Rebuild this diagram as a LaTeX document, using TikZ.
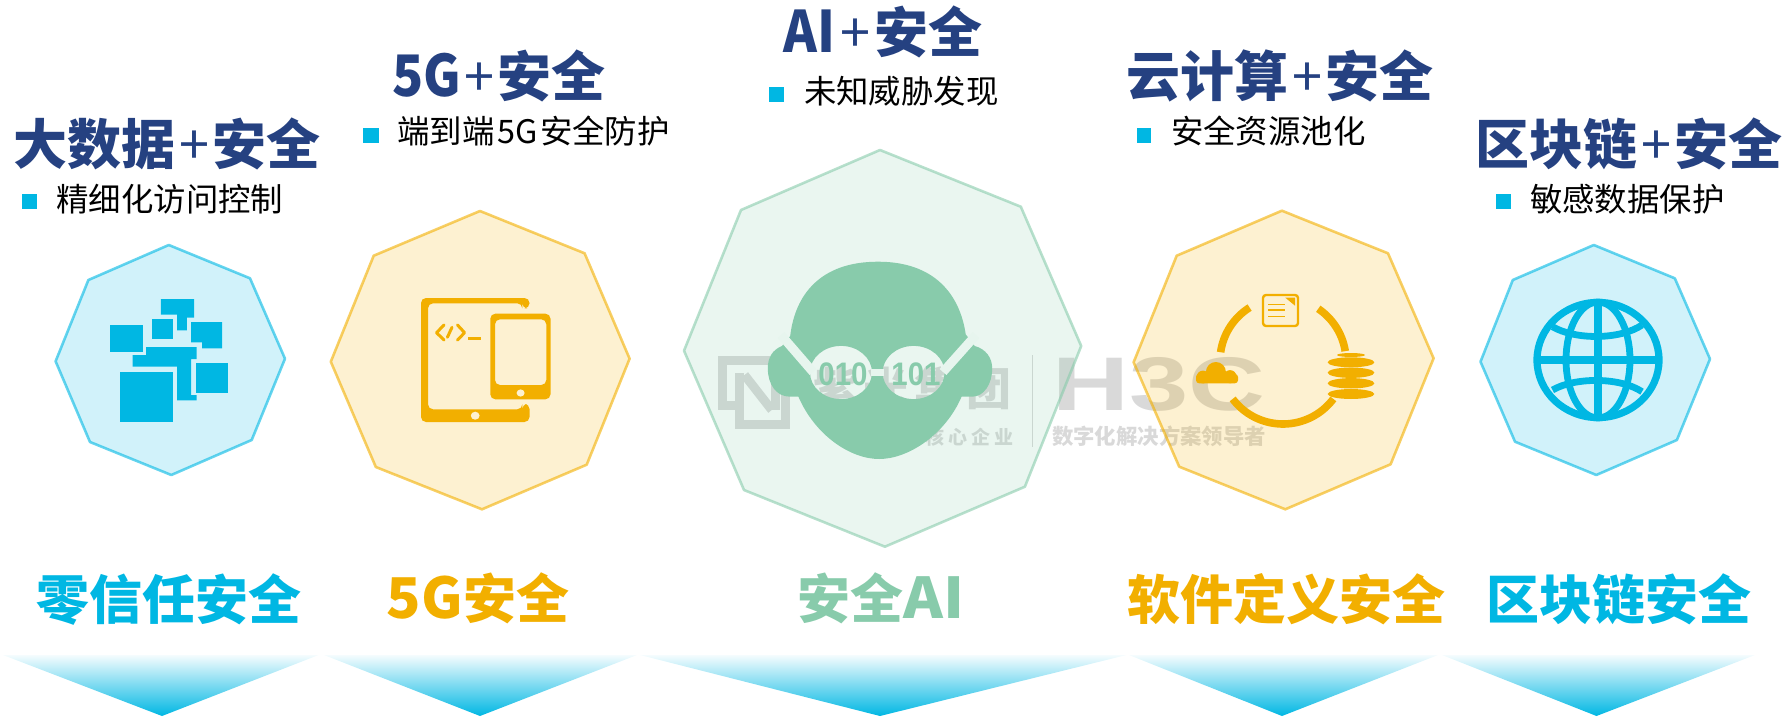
\documentclass[tikz,border=0pt]{standalone}
\usepackage{fontspec}
\usepackage{graphicx}
\setmainfont{Noto Sans CJK SC}
\newfontfamily\latinbold{Liberation Sans}[Scale=1]
\newcommand\plusk{\kern1.7pt{\mdseries+}\kern1.7pt}
\definecolor{navy}{HTML}{254181}
\definecolor{cblue}{HTML}{00B7E3}
\definecolor{cyel}{HTML}{F2AF00}
\definecolor{cgrn}{HTML}{88CBAB}
\definecolor{bgblue}{HTML}{D1F2FA}
\definecolor{bgyel}{HTML}{FDF1D1}
\definecolor{bggrn}{HTML}{E7F5EE}
\definecolor{wm}{HTML}{D9D9D9}
\tikzset{
  octa/.style={line width=1.3pt,line join=round,fill=#1,fill opacity=.18,draw=#1,draw opacity=.6},
  titletext/.style={anchor=base,inner sep=0pt,text=navy,font=\fontsize{27}{27}\selectfont\bfseries},
  subtext/.style={anchor=base west,inner sep=0pt,text=black,font=\fontsize{16.2}{16.2}\selectfont},
  labeltext/.style={anchor=base,inner sep=0pt,text=#1,font=\fontsize{26.5}{26.5}\selectfont\bfseries},
  bullet/.style={fill=cblue},
  wedge/.style={top color=cblue!4,bottom color=cblue,draw=none},
  wmtext/.style={inner sep=0pt,text=wm},
  wmline/.style={draw=wm,line width=4.5pt,line join=miter}
}
\begin{document}
\begin{tikzpicture}[x=.5pt,y=-.5pt]
\useasboundingbox (0,0) rectangle (1788,717);
% watermark
\draw[wmline] (770,360) -- (722.7,360) -- (722.7,405) -- (735.5,405);
\draw[wmline] (739.8,373) -- (739.8,424) -- (785.3,424) -- (785.3,373);
\draw[wmline] (775.5,360) -- (775.5,410);
\draw[wmline] (744.5,375) -- (771.8,410);
\node[wmtext,anchor=base] (wmcompany) at (912,405) {\fontsize{22.5}{22.5}\selectfont\bfseries 紫\kern3pt 光\kern3pt 集\kern3pt 团};
\node[wmtext,anchor=base] (wmcore) at (969,444) {\fontsize{9.5}{9.5}\selectfont\bfseries 核\kern2pt 心\kern2pt 企\kern2pt 业};
\draw[wm,line width=.6pt] (1032.5,355) -- (1032.5,447);
\node[wmtext,anchor=base] (wmhc) at (1159,410) {\scalebox{1.4}[1]{\latinbold\fontsize{38}{38}\selectfont\bfseries H3C}};
\node[wmtext,anchor=base] (wmslogan) at (1159,444) {\fontsize{10.7}{10.7}\selectfont\bfseries 数字化解决方案领导者};
% octagons
\draw[octa=cblue] (168.8,245) -- (250,278.3) -- (285,358.7) -- (251.7,440) -- (171.3,475) -- (90,442) -- (55.6,361.3) -- (88.4,280) -- cycle;
\draw[octa=cyel] (480,211) -- (584.6,253.3) -- (629.6,358.7) -- (586.7,464.7) -- (482,509.3) -- (375.8,467) -- (330.8,361.7) -- (373.7,255.7) -- cycle;
\draw[octa=cgrn] (880,150) -- (1020.8,206.7) -- (1081.2,346) -- (1024.9,486.7) -- (884.9,546.7) -- (744,490) -- (684,350.7) -- (741,210) -- cycle;
\draw[octa=cyel] (1281.9,210.7) -- (1388,253.3) -- (1433.6,358.3) -- (1390.6,464.3) -- (1285.3,509.3) -- (1179.2,466.7) -- (1133.6,362.3) -- (1176.7,255.7) -- cycle;
\draw[octa=cblue] (1593.8,245) -- (1674.8,278.3) -- (1710,359) -- (1676.9,440) -- (1596.3,475) -- (1515,441.7) -- (1480.5,361.7) -- (1512.8,280) -- cycle;
% blocks icon
\fill[cblue] (109.8,325) rectangle (143.1,352);
\fill[cblue] (152,319) rectangle (173,339);
\fill[cblue] (120,372) rectangle (173,422);
\fill[cblue] (196.1,363) rectangle (228.1,393);
\fill[cblue] (160.8,299) -- (194,299) -- (194,317.7) -- (186.9,317.7) -- (186.9,330.3) -- (177.2,330.3) -- (177.2,314.7) -- (160.8,314.7) -- cycle;
\fill[cblue] (191.1,322) -- (222.2,322) -- (222.2,348.3) -- (202,348.3) -- (202,342.3) -- (191.1,342.3) -- cycle;
\fill[cblue] (146,347) -- (196.5,347) -- (196.5,359) -- (191.1,359) -- (191.1,395) -- (196.5,395) -- (196.5,400.3) -- (177.2,400.3) -- (177.2,366.7) -- (132.6,366.7) -- (132.6,355) -- (146,355) -- cycle;
% tablet icon
\fill[cyel,rounded corners=2.5pt] (421,298) -- (529.5,298) -- (529.5,308.3) -- (522.3,308.3) -- (522.3,303.3) -- (428,303.3) -- (428,409.3) -- (522.3,409.3) -- (522.3,404) -- (529.5,404) -- (529.5,422) -- (421,422) -- cycle;
\fill[bgyel] (475.2,415.7) ellipse [x radius=2.2pt,y radius=2pt];
\fill[cyel,rounded corners=2.5pt,even odd rule] (490.3,313.7) rectangle (550.5,399.3) (495,319.3) rectangle (546.3,385);
\fill[bgyel] (520.6,393) ellipse [x radius=2pt,y radius=1.8pt];
\draw[cyel,line width=1.5pt,line cap=round,line join=round] (444,325) -- (436.5,332.7) -- (444,340);
\draw[cyel,line width=1.5pt,line cap=round] (452,327.3) -- (447.4,337.3);
\draw[cyel,line width=1.5pt,line cap=round,line join=round] (457.5,325) -- (464.6,332.7) -- (457.5,340);
\draw[cyel,line width=1.5pt] (468.4,338.3) -- (481,338.3);
% AI head
\fill[cgrn,even odd rule]
  (878,261.7) .. controls (820,261.7) and (795,295) .. (790.2,336)
  -- (782,346) .. controls (772,350) and (767.8,358) .. (767.8,368.3)
  .. controls (767.8,384) and (776,396.7) .. (790,396.7) -- (798.4,396.7)
  .. controls (815,435) and (850,459) .. (879.2,459)
  .. controls (908,459) and (945,435) .. (961.6,396.7) -- (972,396.7)
  .. controls (984,396.7) and (992.2,384) .. (992.2,368.3)
  .. controls (992.2,358) and (986,349) .. (974.7,346)
  -- (965.7,334.3) .. controls (960,295) and (935,261.7) .. (878,261.7) -- cycle
  (841,372.5) ellipse [x radius=15.5pt,y radius=13.3pt]
  (913.6,372.5) ellipse [x radius=15.5pt,y radius=13.3pt];
\draw[bggrn,line width=4.5pt] (781,335) -- (813,372);
\draw[bggrn,line width=4.5pt] (976,335) -- (943,372);
\fill[bggrn] (871,369) rectangle (884,376);
\node[inner sep=0pt,anchor=base,text=cgrn] (bitsa) at (843,385.5) {\scalebox{.95}[1.05]{\latinbold\fontsize{15.5}{15.5}\selectfont\bfseries 010}};
\node[inner sep=0pt,anchor=base,text=cgrn] (bitsb) at (916,385.5) {\scalebox{.95}[1.05]{\latinbold\fontsize{15.5}{15.5}\selectfont\bfseries 101}};
% cycle icon
\draw[cyel,line width=3.8pt] plot[domain=188:238,samples=30] ({1283+63*cos(\x)},{361+63*sin(\x)});
\draw[cyel,line width=3.8pt] plot[domain=304:351,samples=30] ({1283+63*cos(\x)},{361+63*sin(\x)});
\draw[cyel,line width=3.8pt] plot[domain=37:143,samples=40] ({1283+63*cos(\x)},{361+63*sin(\x)});
\draw[cyel,fill=bgyel,line width=1.2pt,rounded corners=1.5pt] (1263,295) rectangle (1298,326);
\draw[cyel,line width=.8pt] (1268.3,304.3) -- (1284.5,304.3) (1268.3,310) -- (1284.5,310) (1268.3,316.3) -- (1284.5,316.3);
\fill[cyel] (1285.3,297.7) -- (1295,297.7) -- (1295,305.7) -- cycle;
\fill[cyel] (1215.9,372) circle [radius=5pt];
\fill[cyel] (1230,376.7) circle [radius=3.3pt];
\fill[cyel] (1203,377) circle [radius=3.2pt];
\fill[cyel,rounded corners=1.5pt] (1196,374) rectangle (1238,383.3);
\fill[cyel] (1351,355) ellipse [x radius=7pt,y radius=1pt];
\fill[cyel] (1351,362.3) ellipse [x radius=11.7pt,y radius=2.5pt];
\fill[cyel] (1351,372.7) ellipse [x radius=11.7pt,y radius=2.6pt];
\fill[cyel] (1351,383.3) ellipse [x radius=11.7pt,y radius=2.6pt];
\fill[cyel] (1351,394) ellipse [x radius=11.7pt,y radius=2.5pt];
% globe icon
\draw[cblue,line width=3.6pt] (1598,360) ellipse [x radius=30.5pt,y radius=28.8pt];
\draw[cblue,line width=3.4pt] (1598,360) ellipse [x radius=16pt,y radius=29pt];
\draw[cblue,line width=3.6pt] (1598,302) -- (1598,418);
\draw[cblue,line width=3.6pt] (1538,360) -- (1658,360);
\draw[cblue,line width=3.4pt] (1552.5,326.7) .. controls (1575,340) and (1620,340) .. (1642,325);
\draw[cblue,line width=3.4pt] (1552.5,390) .. controls (1575,377) and (1620,377) .. (1642,391.7);
% titles
\node[titletext] (t1) at (167,164.5) {大数据\plusk 安全};
\node[titletext] (t2) at (499,96.5) {\scalebox{.95}[1.06]{5G}\plusk 安全};
\node[titletext] (t3) at (883,52.5) {\scalebox{.95}[1.06]{AI}\kern1pt\plusk 安全};
\node[titletext] (t4) at (1280,97) {云计算\plusk 安全};
\node[titletext] (t5) at (1629,164.5) {区块链\plusk 安全};
% bullets and subtitles
\fill[bullet] (22,194) rectangle (37,209);
\node[subtext] (s1) at (56,211) {精细化访问控制};
\fill[bullet] (363.4,127.7) rectangle (379,142.7);
\node[subtext] (s2) at (397,144) {端到端\kern1.3pt 5G\kern1.3pt 安全防护};
\fill[bullet] (769,87) rectangle (784,102);
\node[subtext] (s3) at (803.7,104) {未知威胁发现};
\fill[bullet] (1136.7,127.7) rectangle (1151.4,142.7);
\node[subtext] (s4) at (1170.7,144) {安全资源池化};
\fill[bullet] (1495.7,194) rectangle (1511,209);
\node[subtext] (s5) at (1529.7,211) {敏感数据保护};
% bottom labels
\node[labeltext=cblue] (b1) at (168.5,619) {零信任安全};
\node[labeltext=cyel] (b2) at (478,618.5) {\scalebox{1.07}[1.06]{5G}安全};
\node[labeltext=cgrn] (b3) at (881,618.5) {安全\scalebox{1.14}[1.06]{AI}};
\node[labeltext=cyel] (b4) at (1286,619) {软件定义安全};
\node[labeltext=cblue] (b5) at (1619,619) {区块链安全};
% wedges
\shade[wedge] (3,655) -- (318.6,655) -- (162,716) -- cycle;
\shade[wedge] (324,655) -- (637,655) -- (480,716) -- cycle;
\shade[wedge] (640,655) -- (1126.5,655) -- (880,716) -- cycle;
\shade[wedge] (1129,655) -- (1438,655) -- (1282,716) -- cycle;
\shade[wedge] (1442,655) -- (1755,655) -- (1596.5,716) -- cycle;
\end{tikzpicture}
\end{document}
